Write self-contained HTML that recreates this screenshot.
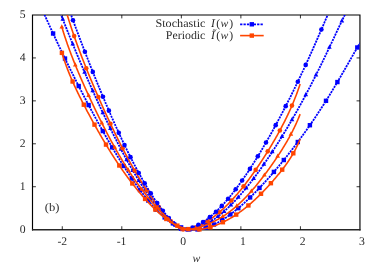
<!DOCTYPE html><html><head><meta charset="utf-8"><style>html,body{margin:0;padding:0;background:#fff}body{width:382px;height:268px;position:relative;overflow:hidden}</style></head><body><svg width="382" height="268" viewBox="0 0 382 268" style="position:absolute;left:0;top:0"><defs><clipPath id="cp"><rect x="32.5" y="15.0" width="327.46999999999997" height="217.65"/></clipPath></defs><path d="M32.5 14.4 V230.4 M31.95 14.95 H360.5 M359.95 14.4 V230.4" stroke="#000" stroke-width="1.15" fill="none"/><path d="M31.95 229.75 H360.5" stroke="#262626" stroke-width="1.4" fill="none"/><path d="M62.27 229.65 v-3.4 M62.27 15.0 v3.4 M121.81 229.65 v-3.4 M121.81 15.0 v3.4 M181.35 229.65 v-3.4 M181.35 15.0 v3.4 M240.89 229.65 v-3.4 M240.89 15.0 v3.4 M300.43 229.65 v-3.4 M300.43 15.0 v3.4 M32.5 186.72 h3.4 M359.97 186.72 h-3.4 M32.5 143.79 h3.4 M359.97 143.79 h-3.4 M32.5 100.86 h3.4 M359.97 100.86 h-3.4 M32.5 57.93 h3.4 M359.97 57.93 h-3.4" stroke="#000" stroke-width="0.8" fill="none"/><g clip-path="url(#cp)"><path d="M32.50 -12.89 L33.05 -11.61 L33.59 -10.33 L34.14 -9.05 L34.69 -7.77 L35.23 -6.50 L35.78 -5.23 L36.33 -3.97 L36.87 -2.70 L37.42 -1.44 L37.97 -0.18 L38.51 1.07 L39.06 2.33 L39.61 3.58 L40.15 4.82 L40.70 6.07 L41.25 7.31 L41.79 8.54 L42.34 9.78 L42.89 11.01 L43.43 12.24 L43.98 13.47 L44.53 14.69 L45.07 15.91 L45.62 17.13 L46.17 18.34 L46.71 19.56 L47.26 20.76 L47.81 21.97 L48.35 23.17 L48.90 24.38 L49.45 25.57 L49.99 26.77 L50.54 27.96 L51.09 29.15 L51.63 30.34 L52.18 31.52 L52.73 32.71 L53.27 33.88 L53.82 35.06 L54.37 36.23 L54.91 37.41 L55.46 38.57 L56.01 39.74 L56.55 40.90 L57.10 42.06 L57.65 43.22 L58.19 44.38 L58.74 45.53 L59.29 46.68 L59.83 47.83 L60.38 48.98 L60.93 50.12 L61.47 51.26 L62.02 52.40 L62.57 53.54 L63.11 54.67 L63.66 55.80 L64.21 56.93 L64.75 58.06 L65.30 59.18 L65.85 60.30 L66.40 61.42 L66.94 62.54 L67.49 63.66 L68.04 64.77 L68.58 65.88 L69.13 66.99 L69.68 68.09 L70.22 69.20 L70.77 70.30 L71.32 71.40 L71.86 72.50 L72.41 73.59 L72.96 74.68 L73.50 75.77 L74.05 76.86 L74.60 77.95 L75.14 79.03 L75.69 80.11 L76.24 81.19 L76.78 82.27 L77.33 83.35 L77.88 84.42 L78.42 85.49 L78.97 86.56 L79.52 87.63 L80.06 88.69 L80.61 89.76 L81.16 90.82 L81.70 91.87 L82.25 92.93 L82.80 93.99 L83.34 95.04 L83.89 96.09 L84.44 97.14 L84.98 98.18 L85.53 99.23 L86.08 100.27 L86.62 101.31 L87.17 102.34 L87.72 103.38 L88.26 104.41 L88.81 105.44 L89.36 106.47 L89.90 107.50 L90.45 108.52 L91.00 109.54 L91.54 110.56 L92.09 111.58 L92.64 112.60 L93.18 113.61 L93.73 114.62 L94.28 115.63 L94.82 116.64 L95.37 117.64 L95.92 118.64 L96.46 119.64 L97.01 120.64 L97.56 121.64 L98.10 122.63 L98.65 123.62 L99.20 124.61 L99.74 125.59 L100.29 126.58 L100.84 127.56 L101.38 128.54 L101.93 129.51 L102.48 130.49 L103.02 131.46 L103.57 132.43 L104.12 133.39 L104.66 134.36 L105.21 135.32 L105.76 136.28 L106.30 137.23 L106.85 138.19 L107.40 139.14 L107.94 140.09 L108.49 141.03 L109.04 141.97 L109.58 142.91 L110.13 143.85 L110.68 144.79 L111.22 145.72 L111.77 146.65 L112.32 147.57 L112.86 148.49 L113.41 149.41 L113.96 150.33 L114.50 151.25 L115.05 152.16 L115.60 153.07 L116.14 153.97 L116.69 154.87 L117.24 155.77 L117.78 156.67 L118.33 157.56 L118.88 158.45 L119.42 159.34 L119.97 160.22 L120.52 161.10 L121.06 161.98 L121.61 162.85 L122.16 163.72 L122.70 164.58 L123.25 165.45 L123.80 166.31 L124.34 167.16 L124.89 168.01 L125.44 168.86 L125.98 169.71 L126.53 170.55 L127.08 171.39 L127.62 172.22 L128.17 173.05 L128.72 173.88 L129.26 174.70 L129.81 175.52 L130.36 176.33 L130.91 177.14 L131.45 177.95 L132.00 178.75 L132.55 179.55 L133.09 180.35 L133.64 181.14 L134.19 181.92 L134.73 182.70 L135.28 183.48 L135.83 184.25 L136.37 185.02 L136.92 185.78 L137.47 186.54 L138.01 187.30 L138.56 188.05 L139.11 188.79 L139.65 189.54 L140.20 190.27 L140.75 191.00 L141.29 191.73 L141.84 192.45 L142.39 193.17 L142.93 193.88 L143.48 194.58 L144.03 195.29 L144.57 195.98 L145.12 196.67 L145.67 197.36 L146.21 198.04 L146.76 198.71 L147.31 199.38 L147.85 200.05 L148.40 200.70 L148.95 201.36 L149.49 202.00 L150.04 202.64 L150.59 203.28 L151.13 203.91 L151.68 204.53 L152.23 205.15 L152.77 205.76 L153.32 206.36 L153.87 206.96 L154.41 207.55 L154.96 208.14 L155.51 208.72 L156.05 209.29 L156.60 209.86 L157.15 210.42 L157.69 210.97 L158.24 211.52 L158.79 212.06 L159.33 212.59 L159.88 213.11 L160.43 213.63 L160.97 214.14 L161.52 214.65 L162.07 215.14 L162.61 215.63 L163.16 216.12 L163.71 216.59 L164.25 217.06 L164.80 217.51 L165.35 217.97 L165.89 218.41 L166.44 218.85 L166.99 219.27 L167.53 219.69 L168.08 220.10 L168.63 220.51 L169.17 220.90 L169.72 221.29 L170.27 221.67 L170.81 222.04 L171.36 222.40 L171.91 222.75 L172.45 223.10 L173.00 223.43 L173.55 223.76 L174.09 224.08 L174.64 224.39 L175.19 224.69 L175.73 224.99 L176.28 225.27 L176.83 225.54 L177.37 225.81 L177.92 226.07 L178.47 226.32 L179.01 226.56 L179.56 226.79 L180.11 227.01 L180.65 227.22 L181.20 227.42 L181.75 227.62 L182.29 227.80 L182.84 227.98 L183.39 228.15 L183.93 228.30 L184.48 228.45 L185.03 228.59 L185.57 228.73 L186.12 228.85 L186.67 228.96 L187.21 229.07 L187.76 229.16 L188.31 229.25 L188.85 229.33 L189.40 229.40 L189.95 229.46 L190.49 229.51 L191.04 229.56 L191.59 229.59 L192.13 229.62 L192.68 229.64 L193.23 229.65 L193.77 229.65 L194.32 229.64 L194.87 229.63 L195.41 229.61 L195.96 229.58 L196.51 229.54 L197.06 229.49 L197.60 229.44 L198.15 229.38 L198.70 229.31 L199.24 229.23 L199.79 229.14 L200.34 229.05 L200.88 228.95 L201.43 228.84 L201.98 228.73 L202.52 228.61 L203.07 228.48 L203.62 228.34 L204.16 228.20 L204.71 228.05 L205.26 227.89 L205.80 227.73 L206.35 227.56 L206.90 227.38 L207.44 227.20 L207.99 227.01 L208.54 226.82 L209.08 226.61 L209.63 226.40 L210.18 226.19 L210.72 225.97 L211.27 225.74 L211.82 225.51 L212.36 225.27 L212.91 225.02 L213.46 224.77 L214.00 224.52 L214.55 224.25 L215.10 223.99 L215.64 223.71 L216.19 223.43 L216.74 223.15 L217.28 222.86 L217.83 222.57 L218.38 222.26 L218.92 221.96 L219.47 221.65 L220.02 221.33 L220.56 221.01 L221.11 220.69 L221.66 220.35 L222.20 220.02 L222.75 219.68 L223.30 219.33 L223.84 218.98 L224.39 218.63 L224.94 218.27 L225.48 217.90 L226.03 217.54 L226.58 217.16 L227.12 216.78 L227.67 216.40 L228.22 216.02 L228.76 215.63 L229.31 215.23 L229.86 214.83 L230.40 214.43 L230.95 214.02 L231.50 213.61 L232.04 213.19 L232.59 212.77 L233.14 212.35 L233.68 211.92 L234.23 211.49 L234.78 211.06 L235.32 210.62 L235.87 210.17 L236.42 209.73 L236.96 209.28 L237.51 208.82 L238.06 208.37 L238.60 207.90 L239.15 207.44 L239.70 206.97 L240.24 206.50 L240.79 206.02 L241.34 205.55 L241.88 205.06 L242.43 204.58 L242.98 204.09 L243.52 203.60 L244.07 203.10 L244.62 202.61 L245.16 202.10 L245.71 201.60 L246.26 201.09 L246.80 200.58 L247.35 200.07 L247.90 199.55 L248.44 199.03 L248.99 198.51 L249.54 197.98 L250.08 197.45 L250.63 196.92 L251.18 196.39 L251.72 195.85 L252.27 195.31 L252.82 194.77 L253.36 194.22 L253.91 193.67 L254.46 193.12 L255.00 192.57 L255.55 192.01 L256.10 191.45 L256.64 190.89 L257.19 190.33 L257.74 189.76 L258.28 189.19 L258.83 188.62 L259.38 188.04 L259.92 187.46 L260.47 186.89 L261.02 186.30 L261.56 185.72 L262.11 185.13 L262.66 184.54 L263.21 183.95 L263.75 183.36 L264.30 182.76 L264.85 182.16 L265.39 181.56 L265.94 180.96 L266.49 180.35 L267.03 179.74 L267.58 179.13 L268.13 178.52 L268.67 177.90 L269.22 177.29 L269.77 176.67 L270.31 176.05 L270.86 175.42 L271.41 174.80 L271.95 174.17 L272.50 173.54 L273.05 172.90 L273.59 172.27 L274.14 171.63 L274.69 170.99 L275.23 170.35 L275.78 169.71 L276.33 169.06 L276.87 168.42 L277.42 167.77 L277.97 167.11 L278.51 166.46 L279.06 165.80 L279.61 165.15 L280.15 164.49 L280.70 163.82 L281.25 163.16 L281.79 162.49 L282.34 161.82 L282.89 161.15 L283.43 160.48 L283.98 159.80 L284.53 159.13 L285.07 158.45 L285.62 157.76 L286.17 157.08 L286.71 156.39 L287.26 155.71 L287.81 155.02 L288.35 154.32 L288.90 153.63 L289.45 152.93 L289.99 152.23 L290.54 151.53 L291.09 150.83 L291.63 150.12 L292.18 149.42 L292.73 148.71 L293.27 147.99 L293.82 147.28 L294.37 146.56 L294.91 145.85 L295.46 145.12 L296.01 144.40 L296.55 143.67 L297.10 142.95 L297.65 142.22 L298.19 141.48 L298.74 140.75 L299.29 140.01 L299.83 139.27 L300.38 138.53 L300.93 137.79 L301.47 137.04 L302.02 136.29 L302.57 135.54 L303.11 134.78 L303.66 134.03 L304.21 133.27 L304.75 132.51 L305.30 131.74 L305.85 130.97 L306.39 130.21 L306.94 129.43 L307.49 128.66 L308.03 127.88 L308.58 127.10 L309.13 126.32 L309.67 125.54 L310.22 124.75 L310.77 123.96 L311.31 123.16 L311.86 122.37 L312.41 121.57 L312.95 120.77 L313.50 119.97 L314.05 119.16 L314.59 118.35 L315.14 117.54 L315.69 116.72 L316.23 115.90 L316.78 115.08 L317.33 114.26 L317.87 113.43 L318.42 112.60 L318.97 111.77 L319.51 110.94 L320.06 110.10 L320.61 109.26 L321.15 108.42 L321.70 107.57 L322.25 106.72 L322.79 105.87 L323.34 105.01 L323.89 104.15 L324.43 103.29 L324.98 102.43 L325.53 101.56 L326.07 100.69 L326.62 99.82 L327.17 98.94 L327.72 98.07 L328.26 97.19 L328.81 96.30 L329.36 95.41 L329.90 94.52 L330.45 93.63 L331.00 92.74 L331.54 91.84 L332.09 90.94 L332.64 90.03 L333.18 89.13 L333.73 88.22 L334.28 87.31 L334.82 86.39 L335.37 85.48 L335.92 84.56 L336.46 83.64 L337.01 82.71 L337.56 81.79 L338.10 80.86 L338.65 79.93 L339.20 78.99 L339.74 78.06 L340.29 77.12 L340.84 76.18 L341.38 75.24 L341.93 74.30 L342.48 73.35 L343.02 72.41 L343.57 71.46 L344.12 70.51 L344.66 69.56 L345.21 68.61 L345.76 67.65 L346.30 66.70 L346.85 65.74 L347.40 64.79 L347.94 63.83 L348.49 62.87 L349.04 61.91 L349.58 60.95 L350.13 59.99 L350.68 59.04 L351.22 58.08 L351.77 57.12 L352.32 56.16 L352.86 55.20 L353.41 54.25 L353.96 53.29 L354.50 52.34 L355.05 51.39 L355.60 50.44 L356.14 49.49 L356.69 48.54 L357.24 47.60 L357.78 46.65 L358.33 45.72 L358.88 44.78 L359.42 43.85 L359.97 42.92" fill="none" stroke="#0000ff" stroke-width="1.8" stroke-dasharray="2.1 0.9" stroke-linejoin="round"/><rect x="50.90" y="31.31" width="4.40" height="4.40" fill="#0000ff"/><rect x="62.80" y="56.36" width="4.40" height="4.40" fill="#0000ff"/><rect x="76.50" y="83.84" width="4.40" height="4.40" fill="#0000ff"/><rect x="86.40" y="102.85" width="4.40" height="4.40" fill="#0000ff"/><rect x="100.60" y="128.86" width="4.40" height="4.40" fill="#0000ff"/><rect x="110.00" y="145.17" width="4.40" height="4.40" fill="#0000ff"/><rect x="121.40" y="163.80" width="4.40" height="4.40" fill="#0000ff"/><rect x="129.62" y="176.28" width="4.40" height="4.40" fill="#0000ff"/><rect x="137.83" y="187.85" width="4.40" height="4.40" fill="#0000ff"/><rect x="146.05" y="198.32" width="4.40" height="4.40" fill="#0000ff"/><rect x="154.26" y="207.52" width="4.40" height="4.40" fill="#0000ff"/><rect x="162.48" y="215.21" width="4.40" height="4.40" fill="#0000ff"/><rect x="170.69" y="221.17" width="4.40" height="4.40" fill="#0000ff"/><rect x="178.91" y="225.19" width="4.40" height="4.40" fill="#0000ff"/><rect x="187.12" y="227.19" width="4.40" height="4.40" fill="#0000ff"/><rect x="195.34" y="227.24" width="4.40" height="4.40" fill="#0000ff"/><rect x="203.55" y="225.55" width="4.40" height="4.40" fill="#0000ff"/><rect x="211.77" y="222.33" width="4.40" height="4.40" fill="#0000ff"/><rect x="219.98" y="217.83" width="4.40" height="4.40" fill="#0000ff"/><rect x="228.20" y="212.23" width="4.40" height="4.40" fill="#0000ff"/><rect x="236.10" y="205.96" width="4.40" height="4.40" fill="#0000ff"/><rect x="247.90" y="195.24" width="4.40" height="4.40" fill="#0000ff"/><rect x="257.30" y="185.71" width="4.40" height="4.40" fill="#0000ff"/><rect x="271.70" y="169.71" width="4.40" height="4.40" fill="#0000ff"/><rect x="281.60" y="157.82" width="4.40" height="4.40" fill="#0000ff"/><rect x="295.60" y="139.81" width="4.40" height="4.40" fill="#0000ff"/><rect x="307.70" y="123.01" width="4.40" height="4.40" fill="#0000ff"/><rect x="323.80" y="98.61" width="4.40" height="4.40" fill="#0000ff"/><rect x="335.20" y="79.85" width="4.40" height="4.40" fill="#0000ff"/><rect x="355.10" y="45.29" width="4.40" height="4.40" fill="#0000ff"/><path d="M32.50 -62.86 L33.05 -61.31 L33.59 -59.75 L34.14 -58.20 L34.69 -56.65 L35.23 -55.11 L35.78 -53.56 L36.33 -52.02 L36.87 -50.47 L37.42 -48.93 L37.97 -47.40 L38.51 -45.86 L39.06 -44.33 L39.61 -42.80 L40.15 -41.27 L40.70 -39.75 L41.25 -38.23 L41.79 -36.71 L42.34 -35.19 L42.89 -33.68 L43.43 -32.17 L43.98 -30.66 L44.53 -29.15 L45.07 -27.65 L45.62 -26.15 L46.17 -24.66 L46.71 -23.17 L47.26 -21.68 L47.81 -20.19 L48.35 -18.71 L48.90 -17.23 L49.45 -15.75 L49.99 -14.28 L50.54 -12.81 L51.09 -11.35 L51.63 -9.88 L52.18 -8.43 L52.73 -6.97 L53.27 -5.52 L53.82 -4.07 L54.37 -2.62 L54.91 -1.18 L55.46 0.26 L56.01 1.69 L56.55 3.13 L57.10 4.55 L57.65 5.98 L58.19 7.40 L58.74 8.82 L59.29 10.23 L59.83 11.65 L60.38 13.05 L60.93 14.46 L61.47 15.86 L62.02 17.26 L62.57 18.65 L63.11 20.05 L63.66 21.44 L64.21 22.82 L64.75 24.20 L65.30 25.58 L65.85 26.96 L66.40 28.33 L66.94 29.70 L67.49 31.06 L68.04 32.42 L68.58 33.78 L69.13 35.14 L69.68 36.49 L70.22 37.84 L70.77 39.19 L71.32 40.53 L71.86 41.87 L72.41 43.21 L72.96 44.54 L73.50 45.87 L74.05 47.20 L74.60 48.52 L75.14 49.85 L75.69 51.16 L76.24 52.48 L76.78 53.79 L77.33 55.10 L77.88 56.41 L78.42 57.71 L78.97 59.01 L79.52 60.30 L80.06 61.60 L80.61 62.89 L81.16 64.18 L81.70 65.46 L82.25 66.74 L82.80 68.02 L83.34 69.30 L83.89 70.57 L84.44 71.84 L84.98 73.10 L85.53 74.37 L86.08 75.63 L86.62 76.88 L87.17 78.14 L87.72 79.39 L88.26 80.64 L88.81 81.88 L89.36 83.13 L89.90 84.36 L90.45 85.60 L91.00 86.83 L91.54 88.06 L92.09 89.29 L92.64 90.51 L93.18 91.73 L93.73 92.95 L94.28 94.16 L94.82 95.37 L95.37 96.58 L95.92 97.79 L96.46 98.99 L97.01 100.19 L97.56 101.38 L98.10 102.57 L98.65 103.76 L99.20 104.95 L99.74 106.13 L100.29 107.31 L100.84 108.48 L101.38 109.65 L101.93 110.82 L102.48 111.99 L103.02 113.15 L103.57 114.31 L104.12 115.46 L104.66 116.61 L105.21 117.76 L105.76 118.91 L106.30 120.05 L106.85 121.19 L107.40 122.32 L107.94 123.45 L108.49 124.58 L109.04 125.70 L109.58 126.82 L110.13 127.93 L110.68 129.05 L111.22 130.16 L111.77 131.26 L112.32 132.36 L112.86 133.46 L113.41 134.55 L113.96 135.64 L114.50 136.72 L115.05 137.81 L115.60 138.88 L116.14 139.96 L116.69 141.03 L117.24 142.09 L117.78 143.15 L118.33 144.21 L118.88 145.26 L119.42 146.31 L119.97 147.36 L120.52 148.40 L121.06 149.43 L121.61 150.46 L122.16 151.49 L122.70 152.51 L123.25 153.53 L123.80 154.55 L124.34 155.56 L124.89 156.56 L125.44 157.56 L125.98 158.56 L126.53 159.55 L127.08 160.54 L127.62 161.52 L128.17 162.50 L128.72 163.47 L129.26 164.44 L129.81 165.40 L130.36 166.36 L130.91 167.31 L131.45 168.26 L132.00 169.21 L132.55 170.15 L133.09 171.08 L133.64 172.01 L134.19 172.93 L134.73 173.85 L135.28 174.76 L135.83 175.67 L136.37 176.58 L136.92 177.47 L137.47 178.37 L138.01 179.25 L138.56 180.14 L139.11 181.01 L139.65 181.88 L140.20 182.75 L140.75 183.61 L141.29 184.46 L141.84 185.31 L142.39 186.16 L142.93 187.00 L143.48 187.83 L144.03 188.66 L144.57 189.48 L145.12 190.29 L145.67 191.10 L146.21 191.91 L146.76 192.70 L147.31 193.50 L147.85 194.28 L148.40 195.06 L148.95 195.84 L149.49 196.61 L150.04 197.37 L150.59 198.13 L151.13 198.88 L151.68 199.62 L152.23 200.36 L152.77 201.09 L153.32 201.82 L153.87 202.54 L154.41 203.25 L154.96 203.96 L155.51 204.66 L156.05 205.35 L156.60 206.04 L157.15 206.72 L157.69 207.40 L158.24 208.06 L158.79 208.73 L159.33 209.38 L159.88 210.03 L160.43 210.67 L160.97 211.31 L161.52 211.94 L162.07 212.56 L162.61 213.17 L163.16 213.78 L163.71 214.38 L164.25 214.97 L164.80 215.56 L165.35 216.14 L165.89 216.71 L166.44 217.27 L166.99 217.83 L167.53 218.38 L168.08 218.92 L168.63 219.45 L169.17 219.98 L169.72 220.50 L170.27 221.00 L170.81 221.50 L171.36 222.00 L171.91 222.48 L172.45 222.95 L173.00 223.41 L173.55 223.86 L174.09 224.30 L174.64 224.73 L175.19 225.15 L175.73 225.56 L176.28 225.95 L176.83 226.32 L177.37 226.68 L177.92 227.02 L178.47 227.35 L179.01 227.66 L179.56 227.94 L180.11 228.20 L180.65 228.44 L181.20 228.66 L181.75 228.86 L182.29 229.03 L182.84 229.17 L183.39 229.30 L183.93 229.40 L184.48 229.49 L185.03 229.55 L185.57 229.60 L186.12 229.63 L186.67 229.65 L187.21 229.65 L187.76 229.64 L188.31 229.61 L188.85 229.58 L189.40 229.53 L189.95 229.47 L190.49 229.40 L191.04 229.33 L191.59 229.24 L192.13 229.14 L192.68 229.04 L193.23 228.92 L193.77 228.80 L194.32 228.67 L194.87 228.53 L195.41 228.39 L195.96 228.23 L196.51 228.07 L197.06 227.90 L197.60 227.72 L198.15 227.54 L198.70 227.35 L199.24 227.15 L199.79 226.95 L200.34 226.74 L200.88 226.52 L201.43 226.29 L201.98 226.06 L202.52 225.82 L203.07 225.57 L203.62 225.32 L204.16 225.06 L204.71 224.79 L205.26 224.52 L205.80 224.24 L206.35 223.96 L206.90 223.66 L207.44 223.36 L207.99 223.06 L208.54 222.75 L209.08 222.43 L209.63 222.11 L210.18 221.78 L210.72 221.44 L211.27 221.10 L211.82 220.75 L212.36 220.39 L212.91 220.03 L213.46 219.67 L214.00 219.29 L214.55 218.92 L215.10 218.53 L215.64 218.14 L216.19 217.74 L216.74 217.34 L217.28 216.93 L217.83 216.52 L218.38 216.10 L218.92 215.68 L219.47 215.24 L220.02 214.81 L220.56 214.37 L221.11 213.92 L221.66 213.46 L222.20 213.01 L222.75 212.54 L223.30 212.07 L223.84 211.60 L224.39 211.12 L224.94 210.63 L225.48 210.14 L226.03 209.64 L226.58 209.14 L227.12 208.63 L227.67 208.12 L228.22 207.60 L228.76 207.08 L229.31 206.55 L229.86 206.02 L230.40 205.48 L230.95 204.94 L231.50 204.39 L232.04 203.84 L232.59 203.28 L233.14 202.72 L233.68 202.16 L234.23 201.58 L234.78 201.01 L235.32 200.43 L235.87 199.84 L236.42 199.25 L236.96 198.66 L237.51 198.06 L238.06 197.45 L238.60 196.84 L239.15 196.23 L239.70 195.61 L240.24 194.99 L240.79 194.36 L241.34 193.73 L241.88 193.10 L242.43 192.46 L242.98 191.81 L243.52 191.17 L244.07 190.51 L244.62 189.86 L245.16 189.20 L245.71 188.53 L246.26 187.87 L246.80 187.19 L247.35 186.52 L247.90 185.84 L248.44 185.15 L248.99 184.46 L249.54 183.77 L250.08 183.07 L250.63 182.37 L251.18 181.67 L251.72 180.96 L252.27 180.25 L252.82 179.54 L253.36 178.82 L253.91 178.09 L254.46 177.37 L255.00 176.64 L255.55 175.91 L256.10 175.17 L256.64 174.43 L257.19 173.68 L257.74 172.94 L258.28 172.19 L258.83 171.43 L259.38 170.67 L259.92 169.91 L260.47 169.15 L261.02 168.38 L261.56 167.61 L262.11 166.83 L262.66 166.05 L263.21 165.27 L263.75 164.49 L264.30 163.70 L264.85 162.91 L265.39 162.11 L265.94 161.32 L266.49 160.51 L267.03 159.71 L267.58 158.90 L268.13 158.09 L268.67 157.28 L269.22 156.46 L269.77 155.64 L270.31 154.82 L270.86 153.99 L271.41 153.16 L271.95 152.33 L272.50 151.50 L273.05 150.66 L273.59 149.82 L274.14 148.97 L274.69 148.12 L275.23 147.27 L275.78 146.42 L276.33 145.56 L276.87 144.70 L277.42 143.84 L277.97 142.97 L278.51 142.10 L279.06 141.23 L279.61 140.36 L280.15 139.48 L280.70 138.60 L281.25 137.71 L281.79 136.83 L282.34 135.93 L282.89 135.04 L283.43 134.15 L283.98 133.25 L284.53 132.34 L285.07 131.44 L285.62 130.53 L286.17 129.62 L286.71 128.70 L287.26 127.78 L287.81 126.86 L288.35 125.94 L288.90 125.01 L289.45 124.08 L289.99 123.15 L290.54 122.21 L291.09 121.27 L291.63 120.33 L292.18 119.38 L292.73 118.43 L293.27 117.48 L293.82 116.53 L294.37 115.57 L294.91 114.61 L295.46 113.64 L296.01 112.67 L296.55 111.70 L297.10 110.73 L297.65 109.75 L298.19 108.77 L298.74 107.78 L299.29 106.79 L299.83 105.80 L300.38 104.81 L300.93 103.81 L301.47 102.81 L302.02 101.80 L302.57 100.80 L303.11 99.78 L303.66 98.77 L304.21 97.75 L304.75 96.73 L305.30 95.71 L305.85 94.68 L306.39 93.65 L306.94 92.61 L307.49 91.57 L308.03 90.53 L308.58 89.49 L309.13 88.44 L309.67 87.38 L310.22 86.33 L310.77 85.27 L311.31 84.21 L311.86 83.14 L312.41 82.07 L312.95 81.00 L313.50 79.93 L314.05 78.85 L314.59 77.77 L315.14 76.68 L315.69 75.59 L316.23 74.50 L316.78 73.41 L317.33 72.31 L317.87 71.21 L318.42 70.10 L318.97 69.00 L319.51 67.89 L320.06 66.77 L320.61 65.66 L321.15 64.54 L321.70 63.41 L322.25 62.29 L322.79 61.16 L323.34 60.03 L323.89 58.90 L324.43 57.76 L324.98 56.63 L325.53 55.49 L326.07 54.35 L326.62 53.20 L327.17 52.06 L327.72 50.91 L328.26 49.76 L328.81 48.61 L329.36 47.45 L329.90 46.30 L330.45 45.14 L331.00 43.98 L331.54 42.83 L332.09 41.67 L332.64 40.51 L333.18 39.34 L333.73 38.18 L334.28 37.02 L334.82 35.86 L335.37 34.70 L335.92 33.54 L336.46 32.38 L337.01 31.22 L337.56 30.06 L338.10 28.90 L338.65 27.75 L339.20 26.59 L339.74 25.44 L340.29 24.29 L340.84 23.14 L341.38 22.00 L341.93 20.85 L342.48 19.72 L343.02 18.58 L343.57 17.45 L344.12 16.33 L344.66 15.20 L345.21 14.09 L345.76 12.98 L346.30 11.87 L346.85 10.78 L347.40 9.69 L347.94 8.60 L348.49 7.53 L349.04 6.46 L349.58 5.40 L350.13 4.35 L350.68 3.31 L351.22 2.28 L351.77 1.26 L352.32 0.26 L352.86 -0.74 L353.41 -1.72 L353.96 -2.69 L354.50 -3.65 L355.05 -4.59 L355.60 -5.51 L356.14 -6.42 L356.69 -7.32 L357.24 -8.19 L357.78 -9.05 L358.33 -9.89 L358.88 -10.70 L359.42 -11.50 L359.97 -12.28" fill="none" stroke="#0000ff" stroke-width="1.8" stroke-dasharray="2.1 0.9" stroke-linejoin="round"/><path d="M62.80 16.56 L65.10 20.76 L60.50 20.76 Z" fill="#0000ff"/><path d="M72.70 41.23 L75.00 45.43 L70.40 45.43 Z" fill="#0000ff"/><path d="M84.60 69.53 L86.90 73.73 L82.30 73.73 Z" fill="#0000ff"/><path d="M92.70 87.97 L95.00 92.17 L90.40 92.17 Z" fill="#0000ff"/><path d="M102.80 109.99 L105.10 114.19 L100.50 114.19 Z" fill="#0000ff"/><path d="M110.40 125.80 L112.70 130.00 L108.10 130.00 Z" fill="#0000ff"/><path d="M120.90 146.43 L123.20 150.63 L118.60 150.63 Z" fill="#0000ff"/><path d="M126.60 156.99 L128.90 161.19 L124.30 161.19 Z" fill="#0000ff"/><path d="M132.69 167.71 L134.99 171.91 L130.39 171.91 Z" fill="#0000ff"/><path d="M138.79 177.81 L141.09 182.01 L136.49 182.01 Z" fill="#0000ff"/><path d="M144.88 187.25 L147.18 191.45 L142.58 191.45 Z" fill="#0000ff"/><path d="M150.97 195.97 L153.28 200.17 L148.67 200.17 Z" fill="#0000ff"/><path d="M157.07 203.94 L159.37 208.14 L154.77 208.14 Z" fill="#0000ff"/><path d="M163.16 211.09 L165.46 215.29 L160.86 215.29 Z" fill="#0000ff"/><path d="M169.26 217.37 L171.56 221.57 L166.96 221.57 Z" fill="#0000ff"/><path d="M175.35 222.58 L177.65 226.78 L173.05 226.78 Z" fill="#0000ff"/><path d="M181.44 226.06 L183.74 230.26 L179.14 230.26 Z" fill="#0000ff"/><path d="M187.54 226.96 L189.84 231.16 L185.24 231.16 Z" fill="#0000ff"/><path d="M193.63 226.15 L195.93 230.35 L191.33 230.35 Z" fill="#0000ff"/><path d="M199.72 224.28 L202.03 228.48 L197.42 228.48 Z" fill="#0000ff"/><path d="M205.82 221.54 L208.12 225.74 L203.52 225.74 Z" fill="#0000ff"/><path d="M211.91 218.00 L214.21 222.20 L209.61 222.20 Z" fill="#0000ff"/><path d="M218.01 213.70 L220.31 217.90 L215.71 217.90 Z" fill="#0000ff"/><path d="M224.10 208.68 L226.40 212.88 L221.80 212.88 Z" fill="#0000ff"/><path d="M230.90 202.30 L233.20 206.50 L228.60 206.50 Z" fill="#0000ff"/><path d="M238.30 194.49 L240.60 198.69 L236.00 198.69 Z" fill="#0000ff"/><path d="M246.20 185.25 L248.50 189.45 L243.90 189.45 Z" fill="#0000ff"/><path d="M253.70 175.69 L256.00 179.89 L251.40 179.89 Z" fill="#0000ff"/><path d="M263.90 161.59 L266.20 165.79 L261.60 165.79 Z" fill="#0000ff"/><path d="M272.30 149.11 L274.60 153.31 L270.00 153.31 Z" fill="#0000ff"/><path d="M282.00 133.80 L284.30 138.00 L279.70 138.00 Z" fill="#0000ff"/><path d="M292.00 117.01 L294.30 121.21 L289.70 121.21 Z" fill="#0000ff"/><path d="M305.80 92.08 L308.10 96.28 L303.50 96.28 Z" fill="#0000ff"/><path d="M316.00 72.28 L318.30 76.48 L313.70 76.48 Z" fill="#0000ff"/><path d="M329.40 44.67 L331.70 48.87 L327.10 48.87 Z" fill="#0000ff"/><path d="M341.90 18.23 L344.20 22.43 L339.60 22.43 Z" fill="#0000ff"/><path d="M61.91 -3.82 L62.31 -2.32 L62.71 -0.83 L63.11 0.63 L63.50 2.08 L63.90 3.52 L64.30 4.93 L64.70 6.34 L65.09 7.72 L65.49 9.10 L65.89 10.45 L66.29 11.80 L66.69 13.13 L67.08 14.45 L67.48 15.76 L67.88 17.05 L68.28 18.33 L68.67 19.61 L69.07 20.87 L69.47 22.12 L69.87 23.35 L70.26 24.58 L70.66 25.80 L71.06 27.01 L71.46 28.21 L71.86 29.40 L72.25 30.59 L72.65 31.76 L73.05 32.93 L73.45 34.09 L73.84 35.24 L74.24 36.38 L74.64 37.52 L75.04 38.64 L75.43 39.77 L75.83 40.88 L76.23 41.99 L76.63 43.09 L77.03 44.19 L77.42 45.28 L77.82 46.36 L78.22 47.44 L78.62 48.51 L79.01 49.58 L79.41 50.64 L79.81 51.70 L80.21 52.75 L80.60 53.80 L81.00 54.85 L81.40 55.89 L81.80 56.92 L82.20 57.95 L82.59 58.98 L82.99 60.00 L83.39 61.02 L83.79 62.03 L84.18 63.04 L84.58 64.05 L84.98 65.05 L85.38 66.05 L85.77 67.05 L86.17 68.04 L86.57 69.03 L86.97 70.01 L87.37 71.00 L87.76 71.98 L88.16 72.95 L88.56 73.93 L88.96 74.90 L89.35 75.86 L89.75 76.83 L90.15 77.79 L90.55 78.75 L90.94 79.71 L91.34 80.66 L91.74 81.61 L92.14 82.56 L92.54 83.51 L92.93 84.45 L93.33 85.39 L93.73 86.33 L94.13 87.27 L94.52 88.20 L94.92 89.13 L95.32 90.06 L95.72 90.99 L96.11 91.91 L96.51 92.84 L96.91 93.75 L97.31 94.67 L97.71 95.59 L98.10 96.50 L98.50 97.41 L98.90 98.32 L99.30 99.23 L99.69 100.13 L100.09 101.03 L100.49 101.93 L100.89 102.83 L101.28 103.72 L101.68 104.61 L102.08 105.51 L102.48 106.39 L102.88 107.28 L103.27 108.16 L103.67 109.05 L104.07 109.93 L104.47 110.80 L104.86 111.68 L105.26 112.55 L105.66 113.42 L106.06 114.29 L106.45 115.16 L106.85 116.02 L107.25 116.88 L107.65 117.74 L108.05 118.60 L108.44 119.45 L108.84 120.31 L109.24 121.16 L109.64 122.01 L110.03 122.85 L110.43 123.70 L110.83 124.54 L111.23 125.38 L111.62 126.21 L112.02 127.05 L112.42 127.88 L112.82 128.71 L113.22 129.54 L113.61 130.36 L114.01 131.19 L114.41 132.01 L114.81 132.83 L115.20 133.64 L115.60 134.46 L116.00 135.27 L116.40 136.08 L116.79 136.88 L117.19 137.69 L117.59 138.49 L117.99 139.29 L118.39 140.08 L118.78 140.88 L119.18 141.67 L119.58 142.46 L119.98 143.25 L120.37 144.03 L120.77 144.81 L121.17 145.59 L121.57 146.37 L121.96 147.14 L122.36 147.92 L122.76 148.68 L123.16 149.45 L123.56 150.22 L123.95 150.98 L124.35 151.74 L124.75 152.49 L125.15 153.25 L125.54 154.00 L125.94 154.75 L126.34 155.49 L126.74 156.24 L127.13 156.98 L127.53 157.72 L127.93 158.45 L128.33 159.18 L128.73 159.91 L129.12 160.64 L129.52 161.37 L129.92 162.09 L130.32 162.81 L130.71 163.53 L131.11 164.24 L131.51 164.95 L131.91 165.66 L132.30 166.37 L132.70 167.07 L133.10 167.77 L133.50 168.47 L133.90 169.17 L134.29 169.86 L134.69 170.55 L135.09 171.24 L135.49 171.92 L135.88 172.60 L136.28 173.28 L136.68 173.96 L137.08 174.63 L137.47 175.30 L137.87 175.97 L138.27 176.63 L138.67 177.30 L139.07 177.96 L139.46 178.61 L139.86 179.27 L140.26 179.92 L140.66 180.57 L141.05 181.21 L141.45 181.86 L141.85 182.50 L142.25 183.13 L142.64 183.77 L143.04 184.40 L143.44 185.03 L143.84 185.65 L144.24 186.28 L144.63 186.90 L145.03 187.51 L145.43 188.13 L145.83 188.74 L146.22 189.35 L146.62 189.96 L147.02 190.56 L147.42 191.16 L147.81 191.76 L148.21 192.35 L148.61 192.94 L149.01 193.53 L149.41 194.12 L149.80 194.70 L150.20 195.28 L150.60 195.86 L151.00 196.43 L151.39 197.01 L151.79 197.57 L152.19 198.14 L152.59 198.70 L152.99 199.26 L153.38 199.82 L153.78 200.37 L154.18 200.93 L154.58 201.47 L154.97 202.02 L155.37 202.56 L155.77 203.10 L156.17 203.64 L156.56 204.17 L156.96 204.70 L157.36 205.23 L157.76 205.75 L158.16 206.27 L158.55 206.79 L158.95 207.30 L159.35 207.81 L159.75 208.32 L160.14 208.83 L160.54 209.33 L160.94 209.83 L161.34 210.33 L161.73 210.82 L162.13 211.31 L162.53 211.79 L162.93 212.27 L163.33 212.75 L163.72 213.23 L164.12 213.70 L164.52 214.17 L164.92 214.64 L165.31 215.10 L165.71 215.55 L166.11 216.01 L166.51 216.46 L166.90 216.91 L167.30 217.35 L167.70 217.79 L168.10 218.22 L168.50 218.65 L168.89 219.08 L169.29 219.50 L169.69 219.92 L170.09 220.33 L170.48 220.74 L170.88 221.14 L171.28 221.54 L171.68 221.93 L172.07 222.31 L172.47 222.69 L172.87 223.07 L173.27 223.44 L173.67 223.80 L174.06 224.15 L174.46 224.50 L174.86 224.84 L175.26 225.17 L175.65 225.50 L176.05 225.81 L176.45 226.12 L176.85 226.41 L177.24 226.70 L177.64 226.97 L178.04 227.23 L178.44 227.48 L178.84 227.72 L179.23 227.95 L179.63 228.16 L180.03 228.36 L180.43 228.54 L180.82 228.71 L181.22 228.87 L181.62 229.01 L182.02 229.13 L182.41 229.24 L182.81 229.34 L183.21 229.42 L183.61 229.49 L184.01 229.55 L184.40 229.59 L184.80 229.62 L185.20 229.64 L185.60 229.65 L185.99 229.65 L186.39 229.63 L186.79 229.61 L187.19 229.58 L187.58 229.54 L187.98 229.49 L188.38 229.43 L188.78 229.37 L189.18 229.30 L189.57 229.22 L189.97 229.14 L190.37 229.05 L190.77 228.95 L191.16 228.85 L191.56 228.74 L191.96 228.63 L192.36 228.51 L192.75 228.38 L193.15 228.26 L193.55 228.12 L193.95 227.99 L194.35 227.85 L194.74 227.70 L195.14 227.55 L195.54 227.40 L195.94 227.24 L196.33 227.08 L196.73 226.91 L197.13 226.74 L197.53 226.57 L197.92 226.39 L198.32 226.21 L198.72 226.03 L199.12 225.84 L199.52 225.65 L199.91 225.45 L200.31 225.26 L200.71 225.06 L201.11 224.85 L201.50 224.64 L201.90 224.43 L202.30 224.22 L202.70 224.00 L203.09 223.78 L203.49 223.56 L203.89 223.33 L204.29 223.10 L204.69 222.87 L205.08 222.63 L205.48 222.39 L205.88 222.15 L206.28 221.91 L206.67 221.66 L207.07 221.41 L207.47 221.15 L207.87 220.90 L208.26 220.64 L208.66 220.37 L209.06 220.11 L209.46 219.84 L209.86 219.57 L210.25 219.29 L210.65 219.01 L211.05 218.73 L211.45 218.45 L211.84 218.16 L212.24 217.87 L212.64 217.58 L213.04 217.28 L213.43 216.99 L213.83 216.69 L214.23 216.38 L214.63 216.07 L215.03 215.76 L215.42 215.45 L215.82 215.14 L216.22 214.82 L216.62 214.50 L217.01 214.17 L217.41 213.85 L217.81 213.52 L218.21 213.18 L218.60 212.85 L219.00 212.51 L219.40 212.17 L219.80 211.83 L220.20 211.48 L220.59 211.13 L220.99 210.78 L221.39 210.42 L221.79 210.06 L222.18 209.70 L222.58 209.34 L222.98 208.97 L223.38 208.60 L223.77 208.23 L224.17 207.86 L224.57 207.48 L224.97 207.10 L225.37 206.72 L225.76 206.33 L226.16 205.94 L226.56 205.55 L226.96 205.16 L227.35 204.76 L227.75 204.36 L228.15 203.96 L228.55 203.56 L228.94 203.15 L229.34 202.74 L229.74 202.32 L230.14 201.91 L230.54 201.49 L230.93 201.07 L231.33 200.64 L231.73 200.22 L232.13 199.79 L232.52 199.36 L232.92 198.92 L233.32 198.48 L233.72 198.04 L234.11 197.60 L234.51 197.16 L234.91 196.71 L235.31 196.26 L235.71 195.81 L236.10 195.35 L236.50 194.89 L236.90 194.43 L237.30 193.97 L237.69 193.50 L238.09 193.03 L238.49 192.56 L238.89 192.09 L239.28 191.61 L239.68 191.13 L240.08 190.65 L240.48 190.16 L240.88 189.68 L241.27 189.19 L241.67 188.70 L242.07 188.20 L242.47 187.71 L242.86 187.21 L243.26 186.71 L243.66 186.20 L244.06 185.69 L244.45 185.19 L244.85 184.67 L245.25 184.16 L245.65 183.64 L246.05 183.12 L246.44 182.60 L246.84 182.08 L247.24 181.55 L247.64 181.02 L248.03 180.49 L248.43 179.96 L248.83 179.43 L249.23 178.89 L249.62 178.35 L250.02 177.80 L250.42 177.26 L250.82 176.71 L251.22 176.16 L251.61 175.61 L252.01 175.06 L252.41 174.50 L252.81 173.94 L253.20 173.38 L253.60 172.82 L254.00 172.25 L254.40 171.68 L254.80 171.11 L255.19 170.54 L255.59 169.97 L255.99 169.39 L256.39 168.81 L256.78 168.23 L257.18 167.65 L257.58 167.06 L257.98 166.47 L258.37 165.88 L258.77 165.29 L259.17 164.70 L259.57 164.10 L259.97 163.50 L260.36 162.90 L260.76 162.30 L261.16 161.69 L261.56 161.09 L261.95 160.48 L262.35 159.86 L262.75 159.25 L263.15 158.63 L263.54 158.02 L263.94 157.39 L264.34 156.77 L264.74 156.15 L265.14 155.52 L265.53 154.89 L265.93 154.26 L266.33 153.62 L266.73 152.98 L267.12 152.35 L267.52 151.70 L267.92 151.06 L268.32 150.41 L268.71 149.77 L269.11 149.11 L269.51 148.46 L269.91 147.80 L270.31 147.15 L270.70 146.49 L271.10 145.82 L271.50 145.16 L271.90 144.49 L272.29 143.81 L272.69 143.14 L273.09 142.46 L273.49 141.78 L273.88 141.10 L274.28 140.41 L274.68 139.73 L275.08 139.03 L275.48 138.34 L275.87 137.64 L276.27 136.94 L276.67 136.24 L277.07 135.53 L277.46 134.82 L277.86 134.10 L278.26 133.38 L278.66 132.66 L279.05 131.94 L279.45 131.21 L279.85 130.47 L280.25 129.74 L280.65 128.99 L281.04 128.25 L281.44 127.50 L281.84 126.74 L282.24 125.99 L282.63 125.22 L283.03 124.45 L283.43 123.68 L283.83 122.90 L284.22 122.12 L284.62 121.33 L285.02 120.53 L285.42 119.73 L285.82 118.93 L286.21 118.11 L286.61 117.30 L287.01 116.47 L287.41 115.64 L287.80 114.80 L288.20 113.96 L288.60 113.10 L289.00 112.24 L289.39 111.38 L289.79 110.50 L290.19 109.62 L290.59 108.73 L290.99 107.83 L291.38 106.92 L291.78 106.00 L292.18 105.08 L292.58 104.14 L292.97 103.19 L293.37 102.24 L293.77 101.27 L294.17 100.29 L294.56 99.30 L294.96 98.30 L295.36 97.29 L295.76 96.26 L296.16 95.22 L296.55 94.17 L296.95 93.11 L297.35 92.03 L297.75 90.94 L298.14 89.83 L298.54 88.71 L298.94 87.58 L299.34 86.42 L299.73 85.25 L300.13 84.07" fill="none" stroke="#ff4500" stroke-width="1.6" stroke-linejoin="round"/><circle cx="74.15" cy="36.12" r="2.3" fill="#ff4500"/><circle cx="86.25" cy="68.23" r="2.3" fill="#ff4500"/><circle cx="98.35" cy="97.07" r="2.3" fill="#ff4500"/><circle cx="110.45" cy="123.74" r="2.3" fill="#ff4500"/><circle cx="122.55" cy="148.28" r="2.3" fill="#ff4500"/><circle cx="134.65" cy="170.48" r="2.3" fill="#ff4500"/><circle cx="146.75" cy="190.15" r="2.3" fill="#ff4500"/><circle cx="158.85" cy="207.17" r="2.3" fill="#ff4500"/><circle cx="170.95" cy="221.21" r="2.3" fill="#ff4500"/><circle cx="183.05" cy="229.39" r="2.3" fill="#ff4500"/><circle cx="195.15" cy="227.55" r="2.3" fill="#ff4500"/><circle cx="207.25" cy="221.29" r="2.3" fill="#ff4500"/><circle cx="219.35" cy="212.21" r="2.3" fill="#ff4500"/><circle cx="231.45" cy="200.52" r="2.3" fill="#ff4500"/><circle cx="243.55" cy="186.34" r="2.3" fill="#ff4500"/><circle cx="255.65" cy="169.88" r="2.3" fill="#ff4500"/><circle cx="267.75" cy="151.33" r="2.3" fill="#ff4500"/><circle cx="279.85" cy="130.47" r="2.3" fill="#ff4500"/><circle cx="291.95" cy="105.61" r="2.3" fill="#ff4500"/><path d="M32.50 -98.11 L33.05 -96.45 L33.59 -94.78 L34.14 -93.11 L34.69 -91.45 L35.23 -89.78 L35.78 -88.11 L36.33 -86.44 L36.87 -84.78 L37.42 -83.11 L37.97 -81.44 L38.51 -79.78 L39.06 -78.11 L39.61 -76.45 L40.15 -74.78 L40.70 -73.12 L41.25 -71.46 L41.79 -69.80 L42.34 -68.14 L42.89 -66.49 L43.43 -64.84 L43.98 -63.18 L44.53 -61.53 L45.07 -59.89 L45.62 -58.24 L46.17 -56.60 L46.71 -54.96 L47.26 -53.32 L47.81 -51.69 L48.35 -50.06 L48.90 -48.43 L49.45 -46.80 L49.99 -45.17 L50.54 -43.55 L51.09 -41.94 L51.63 -40.32 L52.18 -38.71 L52.73 -37.10 L53.27 -35.49 L53.82 -33.89 L54.37 -32.29 L54.91 -30.69 L55.46 -29.10 L56.01 -27.51 L56.55 -25.92 L57.10 -24.34 L57.65 -22.76 L58.19 -21.18 L58.74 -19.61 L59.29 -18.04 L59.83 -16.47 L60.38 -14.91 L60.93 -13.35 L61.47 -11.79 L62.02 -10.24 L62.57 -8.69 L63.11 -7.14 L63.66 -5.60 L64.21 -4.06 L64.75 -2.52 L65.30 -0.99 L65.85 0.54 L66.40 2.07 L66.94 3.59 L67.49 5.11 L68.04 6.63 L68.58 8.14 L69.13 9.65 L69.68 11.16 L70.22 12.66 L70.77 14.16 L71.32 15.66 L71.86 17.15 L72.41 18.64 L72.96 20.13 L73.50 21.61 L74.05 23.09 L74.60 24.57 L75.14 26.04 L75.69 27.51 L76.24 28.98 L76.78 30.44 L77.33 31.90 L77.88 33.36 L78.42 34.81 L78.97 36.27 L79.52 37.71 L80.06 39.16 L80.61 40.60 L81.16 42.04 L81.70 43.47 L82.25 44.90 L82.80 46.33 L83.34 47.76 L83.89 49.18 L84.44 50.60 L84.98 52.01 L85.53 53.42 L86.08 54.83 L86.62 56.24 L87.17 57.64 L87.72 59.04 L88.26 60.44 L88.81 61.83 L89.36 63.22 L89.90 64.60 L90.45 65.99 L91.00 67.37 L91.54 68.74 L92.09 70.12 L92.64 71.49 L93.18 72.85 L93.73 74.22 L94.28 75.58 L94.82 76.93 L95.37 78.29 L95.92 79.64 L96.46 80.98 L97.01 82.33 L97.56 83.67 L98.10 85.00 L98.65 86.33 L99.20 87.66 L99.74 88.99 L100.29 90.31 L100.84 91.63 L101.38 92.95 L101.93 94.26 L102.48 95.57 L103.02 96.87 L103.57 98.17 L104.12 99.47 L104.66 100.76 L105.21 102.05 L105.76 103.34 L106.30 104.62 L106.85 105.90 L107.40 107.18 L107.94 108.45 L108.49 109.71 L109.04 110.98 L109.58 112.24 L110.13 113.49 L110.68 114.74 L111.22 115.99 L111.77 117.24 L112.32 118.48 L112.86 119.71 L113.41 120.94 L113.96 122.17 L114.50 123.39 L115.05 124.61 L115.60 125.83 L116.14 127.04 L116.69 128.24 L117.24 129.44 L117.78 130.64 L118.33 131.83 L118.88 133.02 L119.42 134.21 L119.97 135.39 L120.52 136.56 L121.06 137.73 L121.61 138.90 L122.16 140.06 L122.70 141.21 L123.25 142.37 L123.80 143.51 L124.34 144.65 L124.89 145.79 L125.44 146.92 L125.98 148.05 L126.53 149.17 L127.08 150.29 L127.62 151.40 L128.17 152.51 L128.72 153.61 L129.26 154.71 L129.81 155.80 L130.36 156.89 L130.91 157.97 L131.45 159.04 L132.00 160.11 L132.55 161.18 L133.09 162.24 L133.64 163.29 L134.19 164.34 L134.73 165.39 L135.28 166.42 L135.83 167.46 L136.37 168.48 L136.92 169.50 L137.47 170.52 L138.01 171.53 L138.56 172.53 L139.11 173.53 L139.65 174.52 L140.20 175.51 L140.75 176.49 L141.29 177.46 L141.84 178.43 L142.39 179.39 L142.93 180.35 L143.48 181.30 L144.03 182.24 L144.57 183.18 L145.12 184.11 L145.67 185.03 L146.21 185.95 L146.76 186.86 L147.31 187.77 L147.85 188.67 L148.40 189.56 L148.95 190.45 L149.49 191.33 L150.04 192.20 L150.59 193.07 L151.13 193.93 L151.68 194.78 L152.23 195.63 L152.77 196.47 L153.32 197.31 L153.87 198.13 L154.41 198.95 L154.96 199.77 L155.51 200.57 L156.05 201.37 L156.60 202.16 L157.15 202.95 L157.69 203.73 L158.24 204.50 L158.79 205.26 L159.33 206.02 L159.88 206.77 L160.43 207.51 L160.97 208.25 L161.52 208.98 L162.07 209.70 L162.61 210.42 L163.16 211.12 L163.71 211.82 L164.25 212.51 L164.80 213.20 L165.35 213.88 L165.89 214.55 L166.44 215.21 L166.99 215.86 L167.53 216.51 L168.08 217.15 L168.63 217.78 L169.17 218.40 L169.72 219.02 L170.27 219.63 L170.81 220.23 L171.36 220.82 L171.91 221.40 L172.45 221.97 L173.00 222.54 L173.55 223.09 L174.09 223.64 L174.64 224.18 L175.19 224.70 L175.73 225.21 L176.28 225.72 L176.83 226.20 L177.37 226.68 L177.92 227.13 L178.47 227.56 L179.01 227.97 L179.56 228.34 L180.11 228.68 L180.65 228.97 L181.20 229.21 L181.75 229.40 L182.29 229.53 L182.84 229.61 L183.39 229.64 L183.93 229.65 L184.48 229.62 L185.03 229.57 L185.57 229.50 L186.12 229.42 L186.67 229.32 L187.21 229.21 L187.76 229.08 L188.31 228.94 L188.85 228.80 L189.40 228.64 L189.95 228.47 L190.49 228.30 L191.04 228.11 L191.59 227.92 L192.13 227.72 L192.68 227.51 L193.23 227.29 L193.77 227.07 L194.32 226.83 L194.87 226.59 L195.41 226.34 L195.96 226.09 L196.51 225.82 L197.06 225.55 L197.60 225.27 L198.15 224.98 L198.70 224.69 L199.24 224.39 L199.79 224.08 L200.34 223.76 L200.88 223.44 L201.43 223.11 L201.98 222.77 L202.52 222.42 L203.07 222.07 L203.62 221.71 L204.16 221.34 L204.71 220.97 L205.26 220.59 L205.80 220.20 L206.35 219.80 L206.90 219.40 L207.44 218.99 L207.99 218.58 L208.54 218.15 L209.08 217.72 L209.63 217.29 L210.18 216.84 L210.72 216.39 L211.27 215.94 L211.82 215.47 L212.36 215.00 L212.91 214.53 L213.46 214.05 L214.00 213.56 L214.55 213.06 L215.10 212.56 L215.64 212.05 L216.19 211.53 L216.74 211.01 L217.28 210.48 L217.83 209.95 L218.38 209.41 L218.92 208.86 L219.47 208.31 L220.02 207.75 L220.56 207.19 L221.11 206.62 L221.66 206.04 L222.20 205.46 L222.75 204.87 L223.30 204.27 L223.84 203.67 L224.39 203.06 L224.94 202.45 L225.48 201.83 L226.03 201.21 L226.58 200.58 L227.12 199.94 L227.67 199.30 L228.22 198.65 L228.76 198.00 L229.31 197.34 L229.86 196.68 L230.40 196.01 L230.95 195.34 L231.50 194.66 L232.04 193.97 L232.59 193.28 L233.14 192.59 L233.68 191.89 L234.23 191.18 L234.78 190.47 L235.32 189.76 L235.87 189.03 L236.42 188.31 L236.96 187.58 L237.51 186.84 L238.06 186.10 L238.60 185.36 L239.15 184.60 L239.70 183.85 L240.24 183.09 L240.79 182.32 L241.34 181.56 L241.88 180.78 L242.43 180.00 L242.98 179.22 L243.52 178.43 L244.07 177.64 L244.62 176.84 L245.16 176.04 L245.71 175.24 L246.26 174.43 L246.80 173.61 L247.35 172.79 L247.90 171.97 L248.44 171.14 L248.99 170.31 L249.54 169.48 L250.08 168.64 L250.63 167.79 L251.18 166.94 L251.72 166.09 L252.27 165.24 L252.82 164.38 L253.36 163.51 L253.91 162.65 L254.46 161.77 L255.00 160.90 L255.55 160.02 L256.10 159.14 L256.64 158.25 L257.19 157.36 L257.74 156.46 L258.28 155.57 L258.83 154.66 L259.38 153.76 L259.92 152.85 L260.47 151.94 L261.02 151.02 L261.56 150.10 L262.11 149.18 L262.66 148.25 L263.21 147.32 L263.75 146.39 L264.30 145.45 L264.85 144.51 L265.39 143.56 L265.94 142.62 L266.49 141.67 L267.03 140.71 L267.58 139.75 L268.13 138.79 L268.67 137.83 L269.22 136.86 L269.77 135.89 L270.31 134.91 L270.86 133.94 L271.41 132.95 L271.95 131.97 L272.50 130.98 L273.05 129.99 L273.59 129.00 L274.14 128.00 L274.69 127.00 L275.23 126.00 L275.78 124.99 L276.33 123.98 L276.87 122.96 L277.42 121.95 L277.97 120.93 L278.51 119.90 L279.06 118.88 L279.61 117.85 L280.15 116.82 L280.70 115.78 L281.25 114.74 L281.79 113.70 L282.34 112.65 L282.89 111.60 L283.43 110.55 L283.98 109.50 L284.53 108.44 L285.07 107.37 L285.62 106.31 L286.17 105.24 L286.71 104.17 L287.26 103.09 L287.81 102.02 L288.35 100.93 L288.90 99.85 L289.45 98.76 L289.99 97.67 L290.54 96.58 L291.09 95.48 L291.63 94.38 L292.18 93.27 L292.73 92.16 L293.27 91.05 L293.82 89.94 L294.37 88.82 L294.91 87.70 L295.46 86.58 L296.01 85.45 L296.55 84.32 L297.10 83.18 L297.65 82.04 L298.19 80.90 L298.74 79.76 L299.29 78.61 L299.83 77.46 L300.38 76.30 L300.93 75.15 L301.47 73.98 L302.02 72.82 L302.57 71.65 L303.11 70.48 L303.66 69.31 L304.21 68.13 L304.75 66.95 L305.30 65.76 L305.85 64.57 L306.39 63.38 L306.94 62.19 L307.49 60.99 L308.03 59.79 L308.58 58.58 L309.13 57.38 L309.67 56.16 L310.22 54.95 L310.77 53.73 L311.31 52.51 L311.86 51.29 L312.41 50.07 L312.95 48.84 L313.50 47.61 L314.05 46.37 L314.59 45.13 L315.14 43.89 L315.69 42.65 L316.23 41.41 L316.78 40.16 L317.33 38.91 L317.87 37.66 L318.42 36.40 L318.97 35.14 L319.51 33.89 L320.06 32.62 L320.61 31.36 L321.15 30.10 L321.70 28.83 L322.25 27.56 L322.79 26.30 L323.34 25.03 L323.89 23.75 L324.43 22.48 L324.98 21.21 L325.53 19.94 L326.07 18.66 L326.62 17.39 L327.17 16.11 L327.72 14.84 L328.26 13.56 L328.81 12.29 L329.36 11.02 L329.90 9.75 L330.45 8.48 L331.00 7.21 L331.54 5.94 L332.09 4.68 L332.64 3.41 L333.18 2.15 L333.73 0.90 L334.28 -0.36 L334.82 -1.61 L335.37 -2.86 L335.92 -4.10 L336.46 -5.34 L337.01 -6.57 L337.56 -7.80 L338.10 -9.02 L338.65 -10.23 L339.20 -11.44 L339.74 -12.64 L340.29 -13.84 L340.84 -15.02 L341.38 -16.20 L341.93 -17.37 L342.48 -18.53 L343.02 -19.67 L343.57 -20.81 L344.12 -21.94 L344.66 -23.05 L345.21 -24.15 L345.76 -25.24 L346.30 -26.31 L346.85 -27.37 L347.40 -28.42 L347.94 -29.45 L348.49 -30.46 L349.04 -31.45 L349.58 -32.43 L350.13 -33.38 L350.68 -34.32 L351.22 -35.24 L351.77 -36.13 L352.32 -37.00 L352.86 -37.85 L353.41 -38.67 L353.96 -39.46 L354.50 -40.23 L355.05 -40.97 L355.60 -41.69 L356.14 -42.37 L356.69 -43.02 L357.24 -43.64 L357.78 -44.22 L358.33 -44.77 L358.88 -45.29 L359.42 -45.76 L359.97 -46.20" fill="none" stroke="#0000ff" stroke-width="1.8" stroke-dasharray="2.1 0.9" stroke-linejoin="round"/><circle cx="73.00" cy="20.25" r="2.3" fill="#0000ff"/><circle cx="84.90" cy="51.80" r="2.3" fill="#0000ff"/><circle cx="92.80" cy="71.90" r="2.3" fill="#0000ff"/><circle cx="103.00" cy="96.82" r="2.3" fill="#0000ff"/><circle cx="108.90" cy="110.66" r="2.3" fill="#0000ff"/><circle cx="118.80" cy="132.85" r="2.3" fill="#0000ff"/><circle cx="124.50" cy="144.98" r="2.3" fill="#0000ff"/><circle cx="130.50" cy="157.17" r="2.3" fill="#0000ff"/><circle cx="138.80" cy="172.97" r="2.3" fill="#0000ff"/><circle cx="144.70" cy="183.40" r="2.3" fill="#0000ff"/><circle cx="150.80" cy="193.41" r="2.3" fill="#0000ff"/><circle cx="157.20" cy="203.03" r="2.3" fill="#0000ff"/><circle cx="162.90" cy="210.79" r="2.3" fill="#0000ff"/><circle cx="168.82" cy="218.00" r="2.3" fill="#0000ff"/><circle cx="174.73" cy="224.27" r="2.3" fill="#0000ff"/><circle cx="180.65" cy="228.97" r="2.3" fill="#0000ff"/><circle cx="186.57" cy="229.34" r="2.3" fill="#0000ff"/><circle cx="192.48" cy="227.59" r="2.3" fill="#0000ff"/><circle cx="198.40" cy="224.85" r="2.3" fill="#0000ff"/><circle cx="203.00" cy="222.11" r="2.3" fill="#0000ff"/><circle cx="209.80" cy="217.15" r="2.3" fill="#0000ff"/><circle cx="216.00" cy="211.71" r="2.3" fill="#0000ff"/><circle cx="221.80" cy="205.89" r="2.3" fill="#0000ff"/><circle cx="228.10" cy="198.79" r="2.3" fill="#0000ff"/><circle cx="235.70" cy="189.26" r="2.3" fill="#0000ff"/><circle cx="242.10" cy="180.47" r="2.3" fill="#0000ff"/><circle cx="249.90" cy="168.92" r="2.3" fill="#0000ff"/><circle cx="257.80" cy="156.36" r="2.3" fill="#0000ff"/><circle cx="266.00" cy="142.51" r="2.3" fill="#0000ff"/><circle cx="275.70" cy="125.13" r="2.3" fill="#0000ff"/><circle cx="285.70" cy="106.15" r="2.3" fill="#0000ff"/><circle cx="297.80" cy="81.72" r="2.3" fill="#0000ff"/><circle cx="305.70" cy="64.89" r="2.3" fill="#0000ff"/><circle cx="321.40" cy="29.53" r="2.3" fill="#0000ff"/><path d="M61.91 27.25 L62.31 28.57 L62.71 29.88 L63.11 31.17 L63.50 32.44 L63.90 33.70 L64.30 34.94 L64.70 36.17 L65.09 37.38 L65.49 38.58 L65.89 39.77 L66.29 40.95 L66.69 42.11 L67.08 43.26 L67.48 44.40 L67.88 45.53 L68.28 46.64 L68.67 47.75 L69.07 48.85 L69.47 49.93 L69.87 51.01 L70.26 52.08 L70.66 53.14 L71.06 54.19 L71.46 55.24 L71.86 56.27 L72.25 57.30 L72.65 58.32 L73.05 59.34 L73.45 60.35 L73.84 61.35 L74.24 62.34 L74.64 63.33 L75.04 64.32 L75.43 65.29 L75.83 66.27 L76.23 67.23 L76.63 68.20 L77.03 69.15 L77.42 70.11 L77.82 71.06 L78.22 72.00 L78.62 72.94 L79.01 73.87 L79.41 74.81 L79.81 75.73 L80.21 76.66 L80.60 77.58 L81.00 78.49 L81.40 79.41 L81.80 80.32 L82.20 81.22 L82.59 82.13 L82.99 83.03 L83.39 83.92 L83.79 84.82 L84.18 85.71 L84.58 86.60 L84.98 87.49 L85.38 88.37 L85.77 89.25 L86.17 90.13 L86.57 91.01 L86.97 91.88 L87.37 92.75 L87.76 93.62 L88.16 94.49 L88.56 95.35 L88.96 96.21 L89.35 97.07 L89.75 97.93 L90.15 98.78 L90.55 99.64 L90.94 100.49 L91.34 101.34 L91.74 102.18 L92.14 103.03 L92.54 103.87 L92.93 104.71 L93.33 105.55 L93.73 106.39 L94.13 107.22 L94.52 108.05 L94.92 108.88 L95.32 109.71 L95.72 110.54 L96.11 111.36 L96.51 112.18 L96.91 113.00 L97.31 113.82 L97.71 114.64 L98.10 115.45 L98.50 116.26 L98.90 117.07 L99.30 117.88 L99.69 118.68 L100.09 119.49 L100.49 120.29 L100.89 121.08 L101.28 121.88 L101.68 122.68 L102.08 123.47 L102.48 124.26 L102.88 125.04 L103.27 125.83 L103.67 126.61 L104.07 127.39 L104.47 128.17 L104.86 128.95 L105.26 129.72 L105.66 130.49 L106.06 131.26 L106.45 132.03 L106.85 132.79 L107.25 133.56 L107.65 134.32 L108.05 135.07 L108.44 135.83 L108.84 136.58 L109.24 137.33 L109.64 138.08 L110.03 138.82 L110.43 139.56 L110.83 140.30 L111.23 141.04 L111.62 141.77 L112.02 142.50 L112.42 143.23 L112.82 143.96 L113.22 144.68 L113.61 145.41 L114.01 146.12 L114.41 146.84 L114.81 147.55 L115.20 148.26 L115.60 148.97 L116.00 149.68 L116.40 150.38 L116.79 151.08 L117.19 151.78 L117.59 152.47 L117.99 153.16 L118.39 153.85 L118.78 154.54 L119.18 155.22 L119.58 155.90 L119.98 156.58 L120.37 157.25 L120.77 157.92 L121.17 158.59 L121.57 159.26 L121.96 159.92 L122.36 160.58 L122.76 161.24 L123.16 161.89 L123.56 162.55 L123.95 163.20 L124.35 163.84 L124.75 164.49 L125.15 165.13 L125.54 165.76 L125.94 166.40 L126.34 167.03 L126.74 167.66 L127.13 168.29 L127.53 168.91 L127.93 169.53 L128.33 170.15 L128.73 170.76 L129.12 171.38 L129.52 171.99 L129.92 172.59 L130.32 173.20 L130.71 173.80 L131.11 174.40 L131.51 174.99 L131.91 175.58 L132.30 176.17 L132.70 176.76 L133.10 177.34 L133.50 177.92 L133.90 178.50 L134.29 179.08 L134.69 179.65 L135.09 180.22 L135.49 180.79 L135.88 181.35 L136.28 181.92 L136.68 182.47 L137.08 183.03 L137.47 183.58 L137.87 184.14 L138.27 184.68 L138.67 185.23 L139.07 185.77 L139.46 186.31 L139.86 186.85 L140.26 187.39 L140.66 187.92 L141.05 188.45 L141.45 188.97 L141.85 189.50 L142.25 190.02 L142.64 190.54 L143.04 191.06 L143.44 191.57 L143.84 192.08 L144.24 192.59 L144.63 193.10 L145.03 193.60 L145.43 194.11 L145.83 194.60 L146.22 195.10 L146.62 195.60 L147.02 196.09 L147.42 196.58 L147.81 197.06 L148.21 197.55 L148.61 198.03 L149.01 198.51 L149.41 198.99 L149.80 199.46 L150.20 199.94 L150.60 200.41 L151.00 200.87 L151.39 201.34 L151.79 201.80 L152.19 202.27 L152.59 202.72 L152.99 203.18 L153.38 203.64 L153.78 204.09 L154.18 204.54 L154.58 204.99 L154.97 205.43 L155.37 205.87 L155.77 206.32 L156.17 206.75 L156.56 207.19 L156.96 207.63 L157.36 208.06 L157.76 208.49 L158.16 208.92 L158.55 209.34 L158.95 209.77 L159.35 210.19 L159.75 210.61 L160.14 211.03 L160.54 211.44 L160.94 211.85 L161.34 212.27 L161.73 212.67 L162.13 213.08 L162.53 213.49 L162.93 213.89 L163.33 214.29 L163.72 214.69 L164.12 215.09 L164.52 215.48 L164.92 215.87 L165.31 216.26 L165.71 216.65 L166.11 217.04 L166.51 217.42 L166.90 217.80 L167.30 218.18 L167.70 218.56 L168.10 218.93 L168.50 219.31 L168.89 219.68 L169.29 220.04 L169.69 220.41 L170.09 220.77 L170.48 221.13 L170.88 221.49 L171.28 221.84 L171.68 222.20 L172.07 222.55 L172.47 222.89 L172.87 223.23 L173.27 223.57 L173.67 223.91 L174.06 224.24 L174.46 224.57 L174.86 224.89 L175.26 225.21 L175.65 225.53 L176.05 225.84 L176.45 226.14 L176.85 226.43 L177.24 226.72 L177.64 227.00 L178.04 227.27 L178.44 227.53 L178.84 227.78 L179.23 228.02 L179.63 228.24 L180.03 228.45 L180.43 228.64 L180.82 228.81 L181.22 228.97 L181.62 229.11 L182.02 229.23 L182.41 229.33 L182.81 229.42 L183.21 229.49 L183.61 229.55 L184.01 229.59 L184.40 229.62 L184.80 229.64 L185.20 229.65 L185.60 229.65 L185.99 229.64 L186.39 229.63 L186.79 229.61 L187.19 229.58 L187.58 229.55 L187.98 229.51 L188.38 229.47 L188.78 229.42 L189.18 229.37 L189.57 229.32 L189.97 229.26 L190.37 229.20 L190.77 229.14 L191.16 229.07 L191.56 229.00 L191.96 228.93 L192.36 228.86 L192.75 228.78 L193.15 228.70 L193.55 228.61 L193.95 228.53 L194.35 228.44 L194.74 228.35 L195.14 228.26 L195.54 228.17 L195.94 228.07 L196.33 227.97 L196.73 227.87 L197.13 227.77 L197.53 227.66 L197.92 227.56 L198.32 227.45 L198.72 227.33 L199.12 227.22 L199.52 227.10 L199.91 226.99 L200.31 226.87 L200.71 226.74 L201.11 226.62 L201.50 226.49 L201.90 226.37 L202.30 226.24 L202.70 226.10 L203.09 225.97 L203.49 225.83 L203.89 225.69 L204.29 225.55 L204.69 225.41 L205.08 225.26 L205.48 225.12 L205.88 224.97 L206.28 224.81 L206.67 224.66 L207.07 224.50 L207.47 224.35 L207.87 224.19 L208.26 224.02 L208.66 223.86 L209.06 223.69 L209.46 223.52 L209.86 223.35 L210.25 223.18 L210.65 223.00 L211.05 222.82 L211.45 222.64 L211.84 222.46 L212.24 222.27 L212.64 222.09 L213.04 221.90 L213.43 221.70 L213.83 221.51 L214.23 221.31 L214.63 221.11 L215.03 220.91 L215.42 220.71 L215.82 220.50 L216.22 220.29 L216.62 220.08 L217.01 219.87 L217.41 219.65 L217.81 219.43 L218.21 219.21 L218.60 218.98 L219.00 218.76 L219.40 218.53 L219.80 218.30 L220.20 218.06 L220.59 217.83 L220.99 217.59 L221.39 217.35 L221.79 217.10 L222.18 216.85 L222.58 216.60 L222.98 216.35 L223.38 216.10 L223.77 215.84 L224.17 215.58 L224.57 215.32 L224.97 215.05 L225.37 214.78 L225.76 214.51 L226.16 214.24 L226.56 213.96 L226.96 213.68 L227.35 213.40 L227.75 213.12 L228.15 212.83 L228.55 212.54 L228.94 212.24 L229.34 211.95 L229.74 211.65 L230.14 211.35 L230.54 211.04 L230.93 210.74 L231.33 210.43 L231.73 210.12 L232.13 209.80 L232.52 209.48 L232.92 209.16 L233.32 208.84 L233.72 208.51 L234.11 208.18 L234.51 207.85 L234.91 207.51 L235.31 207.18 L235.71 206.83 L236.10 206.49 L236.50 206.14 L236.90 205.79 L237.30 205.44 L237.69 205.09 L238.09 204.73 L238.49 204.37 L238.89 204.00 L239.28 203.64 L239.68 203.27 L240.08 202.90 L240.48 202.52 L240.88 202.14 L241.27 201.76 L241.67 201.38 L242.07 200.99 L242.47 200.60 L242.86 200.21 L243.26 199.82 L243.66 199.42 L244.06 199.02 L244.45 198.62 L244.85 198.21 L245.25 197.80 L245.65 197.39 L246.05 196.97 L246.44 196.56 L246.84 196.14 L247.24 195.72 L247.64 195.29 L248.03 194.86 L248.43 194.43 L248.83 194.00 L249.23 193.56 L249.62 193.12 L250.02 192.68 L250.42 192.24 L250.82 191.79 L251.22 191.34 L251.61 190.89 L252.01 190.44 L252.41 189.98 L252.81 189.52 L253.20 189.06 L253.60 188.60 L254.00 188.13 L254.40 187.66 L254.80 187.19 L255.19 186.71 L255.59 186.24 L255.99 185.76 L256.39 185.28 L256.78 184.79 L257.18 184.31 L257.58 183.82 L257.98 183.33 L258.37 182.83 L258.77 182.34 L259.17 181.84 L259.57 181.34 L259.97 180.84 L260.36 180.33 L260.76 179.83 L261.16 179.32 L261.56 178.81 L261.95 178.29 L262.35 177.78 L262.75 177.26 L263.15 176.74 L263.54 176.22 L263.94 175.69 L264.34 175.17 L264.74 174.64 L265.14 174.11 L265.53 173.57 L265.93 173.04 L266.33 172.50 L266.73 171.96 L267.12 171.42 L267.52 170.88 L267.92 170.33 L268.32 169.79 L268.71 169.24 L269.11 168.69 L269.51 168.13 L269.91 167.58 L270.31 167.02 L270.70 166.46 L271.10 165.90 L271.50 165.33 L271.90 164.77 L272.29 164.20 L272.69 163.63 L273.09 163.06 L273.49 162.48 L273.88 161.91 L274.28 161.33 L274.68 160.74 L275.08 160.16 L275.48 159.58 L275.87 158.99 L276.27 158.40 L276.67 157.80 L277.07 157.21 L277.46 156.61 L277.86 156.01 L278.26 155.40 L278.66 154.80 L279.05 154.19 L279.45 153.58 L279.85 152.96 L280.25 152.34 L280.65 151.72 L281.04 151.10 L281.44 150.47 L281.84 149.84 L282.24 149.21 L282.63 148.57 L283.03 147.93 L283.43 147.28 L283.83 146.63 L284.22 145.98 L284.62 145.32 L285.02 144.66 L285.42 143.99 L285.82 143.32 L286.21 142.65 L286.61 141.97 L287.01 141.28 L287.41 140.59 L287.80 139.90 L288.20 139.19 L288.60 138.49 L289.00 137.77 L289.39 137.05 L289.79 136.32 L290.19 135.59 L290.59 134.85 L290.99 134.10 L291.38 133.35 L291.78 132.58 L292.18 131.81 L292.58 131.03 L292.97 130.24 L293.37 129.45 L293.77 128.64 L294.17 127.82 L294.56 127.00 L294.96 126.16 L295.36 125.31 L295.76 124.45 L296.16 123.58 L296.55 122.70 L296.95 121.80 L297.35 120.90 L297.75 119.97 L298.14 119.04 L298.54 118.09 L298.94 117.12 L299.34 116.14 L299.73 115.15 L300.13 114.14" fill="none" stroke="#ff4500" stroke-width="1.6" stroke-linejoin="round"/><path d="M61.80 24.18 L64.10 28.38 L59.50 28.38 Z" fill="#ff4500"/><path d="M75.30 62.28 L77.60 66.48 L73.00 66.48 Z" fill="#ff4500"/><path d="M88.60 92.75 L90.90 96.95 L86.30 96.95 Z" fill="#ff4500"/><path d="M101.80 120.22 L104.10 124.42 L99.50 124.42 Z" fill="#ff4500"/><path d="M114.70 144.67 L117.00 148.87 L112.40 148.87 Z" fill="#ff4500"/><path d="M128.21 167.28 L130.51 171.48 L125.91 171.48 Z" fill="#ff4500"/><path d="M141.72 186.65 L144.03 190.85 L139.42 190.85 Z" fill="#ff4500"/><path d="M155.24 203.04 L157.54 207.24 L152.94 207.24 Z" fill="#ff4500"/><path d="M168.75 216.85 L171.05 221.05 L166.45 221.05 Z" fill="#ff4500"/><path d="M182.26 226.61 L184.56 230.81 L179.96 230.81 Z" fill="#ff4500"/><path d="M195.78 225.42 L198.08 229.62 L193.47 229.62 Z" fill="#ff4500"/><path d="M209.29 220.91 L211.59 225.11 L206.99 225.11 Z" fill="#ff4500"/><path d="M222.80 213.78 L225.10 217.98 L220.50 217.98 Z" fill="#ff4500"/><path d="M236.80 203.19 L239.10 207.39 L234.50 207.39 Z" fill="#ff4500"/><path d="M251.40 188.45 L253.70 192.65 L249.10 192.65 Z" fill="#ff4500"/><path d="M264.40 172.40 L266.70 176.60 L262.10 176.60 Z" fill="#ff4500"/><path d="M277.70 153.56 L280.00 157.76 L275.40 157.76 Z" fill="#ff4500"/><path d="M290.90 131.58 L293.20 135.78 L288.60 135.78 Z" fill="#ff4500"/><path d="M61.91 52.91 L62.31 54.19 L62.71 55.45 L63.11 56.70 L63.50 57.91 L63.90 59.11 L64.30 60.29 L64.70 61.45 L65.09 62.59 L65.49 63.72 L65.89 64.83 L66.29 65.92 L66.69 66.99 L67.08 68.05 L67.48 69.10 L67.88 70.13 L68.28 71.15 L68.67 72.16 L69.07 73.15 L69.47 74.14 L69.87 75.11 L70.26 76.07 L70.66 77.02 L71.06 77.96 L71.46 78.89 L71.86 79.82 L72.25 80.73 L72.65 81.63 L73.05 82.53 L73.45 83.42 L73.84 84.30 L74.24 85.18 L74.64 86.05 L75.04 86.91 L75.43 87.76 L75.83 88.61 L76.23 89.46 L76.63 90.30 L77.03 91.13 L77.42 91.96 L77.82 92.78 L78.22 93.60 L78.62 94.42 L79.01 95.23 L79.41 96.03 L79.81 96.84 L80.21 97.63 L80.60 98.43 L81.00 99.22 L81.40 100.01 L81.80 100.79 L82.20 101.58 L82.59 102.36 L82.99 103.13 L83.39 103.91 L83.79 104.68 L84.18 105.44 L84.58 106.21 L84.98 106.97 L85.38 107.74 L85.77 108.49 L86.17 109.25 L86.57 110.00 L86.97 110.76 L87.37 111.51 L87.76 112.25 L88.16 113.00 L88.56 113.74 L88.96 114.49 L89.35 115.23 L89.75 115.97 L90.15 116.70 L90.55 117.44 L90.94 118.17 L91.34 118.90 L91.74 119.63 L92.14 120.36 L92.54 121.08 L92.93 121.81 L93.33 122.53 L93.73 123.25 L94.13 123.97 L94.52 124.69 L94.92 125.40 L95.32 126.12 L95.72 126.83 L96.11 127.54 L96.51 128.25 L96.91 128.95 L97.31 129.66 L97.71 130.36 L98.10 131.06 L98.50 131.76 L98.90 132.46 L99.30 133.16 L99.69 133.85 L100.09 134.54 L100.49 135.23 L100.89 135.92 L101.28 136.61 L101.68 137.29 L102.08 137.97 L102.48 138.65 L102.88 139.33 L103.27 140.01 L103.67 140.68 L104.07 141.36 L104.47 142.03 L104.86 142.70 L105.26 143.36 L105.66 144.03 L106.06 144.69 L106.45 145.35 L106.85 146.01 L107.25 146.67 L107.65 147.32 L108.05 147.97 L108.44 148.62 L108.84 149.27 L109.24 149.92 L109.64 150.56 L110.03 151.20 L110.43 151.84 L110.83 152.48 L111.23 153.11 L111.62 153.74 L112.02 154.37 L112.42 155.00 L112.82 155.63 L113.22 156.25 L113.61 156.87 L114.01 157.49 L114.41 158.11 L114.81 158.72 L115.20 159.33 L115.60 159.94 L116.00 160.55 L116.40 161.15 L116.79 161.76 L117.19 162.36 L117.59 162.96 L117.99 163.55 L118.39 164.14 L118.78 164.74 L119.18 165.33 L119.58 165.91 L119.98 166.50 L120.37 167.08 L120.77 167.66 L121.17 168.24 L121.57 168.81 L121.96 169.38 L122.36 169.95 L122.76 170.52 L123.16 171.09 L123.56 171.65 L123.95 172.21 L124.35 172.77 L124.75 173.33 L125.15 173.88 L125.54 174.44 L125.94 174.99 L126.34 175.54 L126.74 176.08 L127.13 176.62 L127.53 177.17 L127.93 177.71 L128.33 178.24 L128.73 178.78 L129.12 179.31 L129.52 179.84 L129.92 180.37 L130.32 180.89 L130.71 181.42 L131.11 181.94 L131.51 182.46 L131.91 182.98 L132.30 183.49 L132.70 184.00 L133.10 184.51 L133.50 185.02 L133.90 185.53 L134.29 186.03 L134.69 186.54 L135.09 187.04 L135.49 187.53 L135.88 188.03 L136.28 188.52 L136.68 189.02 L137.08 189.50 L137.47 189.99 L137.87 190.48 L138.27 190.96 L138.67 191.44 L139.07 191.92 L139.46 192.40 L139.86 192.87 L140.26 193.34 L140.66 193.81 L141.05 194.28 L141.45 194.75 L141.85 195.21 L142.25 195.67 L142.64 196.13 L143.04 196.59 L143.44 197.05 L143.84 197.50 L144.24 197.95 L144.63 198.40 L145.03 198.84 L145.43 199.29 L145.83 199.73 L146.22 200.17 L146.62 200.61 L147.02 201.04 L147.42 201.47 L147.81 201.91 L148.21 202.33 L148.61 202.76 L149.01 203.18 L149.41 203.60 L149.80 204.02 L150.20 204.44 L150.60 204.85 L151.00 205.26 L151.39 205.67 L151.79 206.08 L152.19 206.48 L152.59 206.88 L152.99 207.28 L153.38 207.68 L153.78 208.07 L154.18 208.46 L154.58 208.85 L154.97 209.24 L155.37 209.62 L155.77 210.00 L156.17 210.38 L156.56 210.75 L156.96 211.12 L157.36 211.49 L157.76 211.86 L158.16 212.22 L158.55 212.58 L158.95 212.94 L159.35 213.29 L159.75 213.64 L160.14 213.99 L160.54 214.34 L160.94 214.68 L161.34 215.02 L161.73 215.35 L162.13 215.69 L162.53 216.01 L162.93 216.34 L163.33 216.66 L163.72 216.98 L164.12 217.30 L164.52 217.61 L164.92 217.92 L165.31 218.22 L165.71 218.52 L166.11 218.82 L166.51 219.12 L166.90 219.41 L167.30 219.69 L167.70 219.98 L168.10 220.26 L168.50 220.53 L168.89 220.80 L169.29 221.07 L169.69 221.34 L170.09 221.60 L170.48 221.86 L170.88 222.11 L171.28 222.36 L171.68 222.60 L172.07 222.84 L172.47 223.08 L172.87 223.31 L173.27 223.54 L173.67 223.77 L174.06 223.99 L174.46 224.20 L174.86 224.42 L175.26 224.62 L175.65 224.83 L176.05 225.03 L176.45 225.22 L176.85 225.42 L177.24 225.60 L177.64 225.79 L178.04 225.96 L178.44 226.14 L178.84 226.31 L179.23 226.48 L179.63 226.64 L180.03 226.79 L180.43 226.95 L180.82 227.10 L181.22 227.24 L181.62 227.38 L182.02 227.52 L182.41 227.65 L182.81 227.78 L183.21 227.90 L183.61 228.02 L184.01 228.13 L184.40 228.24 L184.80 228.35 L185.20 228.45 L185.60 228.55 L185.99 228.64 L186.39 228.73 L186.79 228.81 L187.19 228.89 L187.58 228.97 L187.98 229.04 L188.38 229.11 L188.78 229.17 L189.18 229.23 L189.57 229.29 L189.97 229.34 L190.37 229.39 L190.77 229.43 L191.16 229.47 L191.56 229.51 L191.96 229.54 L192.36 229.56 L192.75 229.59 L193.15 229.61 L193.55 229.62 L193.95 229.64 L194.35 229.64 L194.74 229.65 L195.14 229.65 L195.54 229.65 L195.94 229.64 L196.33 229.63 L196.73 229.62 L197.13 229.60 L197.53 229.58 L197.92 229.55 L198.32 229.53 L198.72 229.49 L199.12 229.46 L199.52 229.42 L199.91 229.38 L200.31 229.33 L200.71 229.29 L201.11 229.23 L201.50 229.18 L201.90 229.12 L202.30 229.06 L202.70 229.00 L203.09 228.93 L203.49 228.86 L203.89 228.79 L204.29 228.71 L204.69 228.63 L205.08 228.55 L205.48 228.46 L205.88 228.37 L206.28 228.28 L206.67 228.19 L207.07 228.09 L207.47 227.99 L207.87 227.89 L208.26 227.79 L208.66 227.68 L209.06 227.57 L209.46 227.46 L209.86 227.34 L210.25 227.22 L210.65 227.10 L211.05 226.98 L211.45 226.86 L211.84 226.73 L212.24 226.60 L212.64 226.46 L213.04 226.33 L213.43 226.19 L213.83 226.05 L214.23 225.91 L214.63 225.76 L215.03 225.62 L215.42 225.47 L215.82 225.32 L216.22 225.16 L216.62 225.00 L217.01 224.85 L217.41 224.69 L217.81 224.52 L218.21 224.36 L218.60 224.19 L219.00 224.02 L219.40 223.85 L219.80 223.67 L220.20 223.50 L220.59 223.32 L220.99 223.14 L221.39 222.96 L221.79 222.77 L222.18 222.58 L222.58 222.39 L222.98 222.20 L223.38 222.01 L223.77 221.81 L224.17 221.62 L224.57 221.42 L224.97 221.21 L225.37 221.01 L225.76 220.80 L226.16 220.60 L226.56 220.39 L226.96 220.17 L227.35 219.96 L227.75 219.74 L228.15 219.52 L228.55 219.30 L228.94 219.08 L229.34 218.85 L229.74 218.62 L230.14 218.39 L230.54 218.16 L230.93 217.93 L231.33 217.69 L231.73 217.45 L232.13 217.21 L232.52 216.97 L232.92 216.73 L233.32 216.48 L233.72 216.23 L234.11 215.98 L234.51 215.72 L234.91 215.47 L235.31 215.21 L235.71 214.95 L236.10 214.69 L236.50 214.42 L236.90 214.16 L237.30 213.89 L237.69 213.62 L238.09 213.34 L238.49 213.07 L238.89 212.79 L239.28 212.51 L239.68 212.22 L240.08 211.94 L240.48 211.65 L240.88 211.36 L241.27 211.07 L241.67 210.78 L242.07 210.48 L242.47 210.18 L242.86 209.88 L243.26 209.58 L243.66 209.27 L244.06 208.96 L244.45 208.65 L244.85 208.34 L245.25 208.03 L245.65 207.71 L246.05 207.39 L246.44 207.07 L246.84 206.74 L247.24 206.42 L247.64 206.09 L248.03 205.76 L248.43 205.42 L248.83 205.09 L249.23 204.75 L249.62 204.41 L250.02 204.07 L250.42 203.72 L250.82 203.38 L251.22 203.03 L251.61 202.68 L252.01 202.32 L252.41 201.97 L252.81 201.61 L253.20 201.25 L253.60 200.89 L254.00 200.52 L254.40 200.16 L254.80 199.79 L255.19 199.42 L255.59 199.04 L255.99 198.67 L256.39 198.29 L256.78 197.91 L257.18 197.53 L257.58 197.15 L257.98 196.76 L258.37 196.37 L258.77 195.98 L259.17 195.59 L259.57 195.20 L259.97 194.80 L260.36 194.40 L260.76 194.00 L261.16 193.60 L261.56 193.20 L261.95 192.79 L262.35 192.39 L262.75 191.98 L263.15 191.57 L263.54 191.15 L263.94 190.74 L264.34 190.32 L264.74 189.90 L265.14 189.48 L265.53 189.06 L265.93 188.64 L266.33 188.21 L266.73 187.79 L267.12 187.36 L267.52 186.93 L267.92 186.49 L268.32 186.06 L268.71 185.62 L269.11 185.19 L269.51 184.75 L269.91 184.31 L270.31 183.86 L270.70 183.42 L271.10 182.97 L271.50 182.52 L271.90 182.07 L272.29 181.62 L272.69 181.17 L273.09 180.71 L273.49 180.26 L273.88 179.80 L274.28 179.34 L274.68 178.87 L275.08 178.41 L275.48 177.94 L275.87 177.47 L276.27 177.00 L276.67 176.53 L277.07 176.05 L277.46 175.57 L277.86 175.09 L278.26 174.61 L278.66 174.13 L279.05 173.64 L279.45 173.15 L279.85 172.66 L280.25 172.16 L280.65 171.66 L281.04 171.16 L281.44 170.66 L281.84 170.15 L282.24 169.64 L282.63 169.12 L283.03 168.61 L283.43 168.08 L283.83 167.56 L284.22 167.03 L284.62 166.49 L285.02 165.95 L285.42 165.41 L285.82 164.86 L286.21 164.31 L286.61 163.75 L287.01 163.19 L287.41 162.62 L287.80 162.04 L288.20 161.46 L288.60 160.87 L289.00 160.27 L289.39 159.67 L289.79 159.06 L290.19 158.44 L290.59 157.82 L290.99 157.18 L291.38 156.54 L291.78 155.88 L292.18 155.22 L292.58 154.55 L292.97 153.87 L293.37 153.17 L293.77 152.47 L294.17 151.75 L294.56 151.02 L294.96 150.28 L295.36 149.52 L295.76 148.75 L296.16 147.97 L296.55 147.17 L296.95 146.35 L297.35 145.52 L297.75 144.67 L298.14 143.81 L298.54 142.92 L298.94 142.02 L299.34 141.09 L299.73 140.15 L300.13 139.18" fill="none" stroke="#ff4500" stroke-width="1.6" stroke-linejoin="round"/><rect x="59.70" y="50.66" width="4.40" height="4.40" fill="#ff4500"/><rect x="70.40" y="79.32" width="4.40" height="4.40" fill="#ff4500"/><rect x="81.60" y="102.50" width="4.40" height="4.40" fill="#ff4500"/><rect x="92.30" y="122.44" width="4.40" height="4.40" fill="#ff4500"/><rect x="103.80" y="142.40" width="4.40" height="4.40" fill="#ff4500"/><rect x="117.10" y="163.30" width="4.40" height="4.40" fill="#ff4500"/><rect x="130.10" y="181.28" width="4.40" height="4.40" fill="#ff4500"/><rect x="142.90" y="196.72" width="4.40" height="4.40" fill="#ff4500"/><rect x="153.10" y="207.35" width="4.40" height="4.40" fill="#ff4500"/><rect x="164.12" y="216.78" width="4.40" height="4.40" fill="#ff4500"/><rect x="175.14" y="223.45" width="4.40" height="4.40" fill="#ff4500"/><rect x="186.16" y="226.91" width="4.40" height="4.40" fill="#ff4500"/><rect x="197.18" y="227.23" width="4.40" height="4.40" fill="#ff4500"/><rect x="208.20" y="224.98" width="4.40" height="4.40" fill="#ff4500"/><rect x="220.70" y="220.04" width="4.40" height="4.40" fill="#ff4500"/><rect x="234.00" y="212.42" width="4.40" height="4.40" fill="#ff4500"/><rect x="246.20" y="203.25" width="4.40" height="4.40" fill="#ff4500"/><rect x="258.80" y="191.56" width="4.40" height="4.40" fill="#ff4500"/><rect x="268.70" y="181.00" width="4.40" height="4.40" fill="#ff4500"/><rect x="280.00" y="167.48" width="4.40" height="4.40" fill="#ff4500"/><rect x="291.10" y="151.10" width="4.40" height="4.40" fill="#ff4500"/></g><g style="font-family:'Liberation Serif',serif;font-size:11.7px;fill:#000;text-rendering:geometricPrecision;filter:grayscale(1)" opacity="0.85"><text x="25.5" y="233.05" text-anchor="end">0</text><text x="25.5" y="190.12" text-anchor="end">1</text><text x="25.5" y="147.19" text-anchor="end">2</text><text x="25.5" y="104.26" text-anchor="end">3</text><text x="25.5" y="61.33" text-anchor="end">4</text><text x="25.5" y="18.40" text-anchor="end">5</text><text x="62.3" y="244.9" text-anchor="middle">-2</text><text x="121.6" y="244.9" text-anchor="middle">-1</text><text x="183.2" y="244.9" text-anchor="middle">0</text><text x="242.9" y="244.9" text-anchor="middle">1</text><text x="302.6" y="244.9" text-anchor="middle">2</text><text x="361.8" y="244.9" text-anchor="middle">3</text><text x="196.3" y="261.5" text-anchor="middle" font-style="italic">w</text><text x="44.8" y="211.4" textLength="14.6" lengthAdjust="spacingAndGlyphs">(b)</text><text x="205.4" y="27.1" text-anchor="end" textLength="49.9" lengthAdjust="spacingAndGlyphs">Stochastic</text><text x="211" y="27.0" font-style="italic">I</text><text x="216.2" y="27.0">(</text><text x="220.6" y="27.0" font-style="italic">w</text><text x="229.3" y="27.0">)</text><text x="205.4" y="39.0" text-anchor="end" textLength="39.6" lengthAdjust="spacingAndGlyphs">Periodic</text><text x="211" y="38.8" font-style="italic">I</text><text x="216.2" y="38.8">(</text><text x="220.6" y="38.8" font-style="italic">w</text><text x="229.3" y="38.8">)</text><path d="M212.9 30.50 q0.8 -1.1 1.7 -0.45 t1.7 -0.45" stroke="#000" stroke-width="0.9" fill="none"/></g><path d="M240.1 24.3 H263.7" stroke="#0000ff" stroke-width="1.8" stroke-dasharray="2.3 1.1"/><rect x="249.60" y="22.10" width="4.40" height="4.40" fill="#0000ff"/><path d="M240.1 35.6 H263.7" stroke="#ff4500" stroke-width="1.6"/><rect x="249.60" y="33.40" width="4.40" height="4.40" fill="#ff4500"/></svg></body></html>
